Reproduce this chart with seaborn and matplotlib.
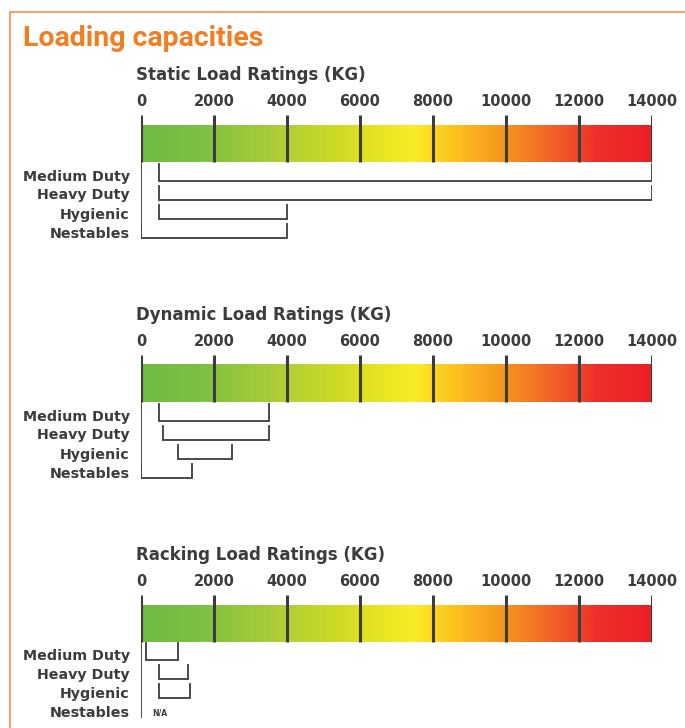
import numpy as np
import pandas as pd
import matplotlib
matplotlib.use('agg')
import matplotlib.pyplot as plt
from matplotlib.colors import LinearSegmentedColormap
import seaborn as sns

# ---- data (kg) ----
duty_types = ["Medium Duty", "Heavy Duty", "Hygienic", "Nestables"]
scale_ticks = [0, 2000, 4000, 6000, 8000, 10000, 12000, 14000]

static_start = [500, 500, 500, 0]
static_end = [14000, 14000, 4000, 4000]

dynamic_start = [500, 600, 1000, 0]
dynamic_end = [3500, 3500, 2500, 1400]

racking_start = [150, 500, 500, None]   # Nestables: N/A
racking_end = [1000, 1300, 1350, None]

panel_titles = ["Static Load Ratings (KG)", "Dynamic Load Ratings (KG)", "Racking Load Ratings (KG)"]

# colour stops of the rating bar
grad_pos = [0, 1500, 4000, 6000, 7500, 8200, 10000, 11500, 12500, 14000]
grad_col = ["#70bb43", "#7bc042", "#b3cf36", "#dbe022", "#fbec26", "#fdd01f",
            "#f7941e", "#f05b2a", "#ed302a", "#ec1f26"]

ORANGE = "#f07f22"
DARK = "#3c3c3c"
W, H = 685, 728

sns.set_style("white")
plt.rcParams['font.family'] = ['DejaVu Sans']
plt.rcParams['lines.solid_joinstyle'] = 'miter'
plt.rcParams['lines.solid_capstyle'] = 'projecting'

fig = plt.figure(figsize=(W / 100, H / 100), dpi=100)

# orange frame, open to the right and bottom
fig.add_artist(plt.Rectangle((10 / W, -0.2), 1.2, 1.2 - 12 / H, transform=fig.transFigure,
                             fill=False, edgecolor="#f2904a", linewidth=1.2, clip_on=False))
fig.text(23 / W, 1 - 38 / H, "Loading capacities", color=ORANGE, fontsize=20.5, fontweight='bold',
         family=['Roboto', 'DejaVu Sans'], va='center', ha='left')

cmap = LinearSegmentedColormap.from_list("load", list(zip(np.array(grad_pos) / 14000, grad_col)))
gradient = np.linspace(0, 1, 600)[None, :]

panels = [(static_start, static_end), (dynamic_start, dynamic_end), (racking_start, racking_end)]
row_gap = 19

for p, (starts, ends) in enumerate(panels):
    off = 240 * p
    tick_top, bar_top, bar_bot = 115 + off, 125 + off, 162 + off
    y_bottom = 245 + off
    centers = [175 + off + row_gap * i for i in range(len(duty_types))]

    ax = fig.add_axes([141 / W, 1 - y_bottom / H, 511 / W, (y_bottom - tick_top) / H])
    ax.set_xlim(0, 14000)
    ax.set_ylim(y_bottom, tick_top)

    # gradient bar + scale ticks
    ax.imshow(gradient, cmap=cmap, aspect='auto', extent=(0, 14000, bar_bot, bar_top), zorder=1)
    ax.vlines(scale_ticks, tick_top, bar_bot, color=DARK, linewidth=2.2, zorder=3)

    # brackets
    segs = []
    for i, (s, e) in enumerate(zip(starts, ends)):
        if s is None:
            continue
        bottom = centers[i] + 5.5
        top = bar_bot + 1.5 if i == 0 else bottom - 14
        for x, y in [(s, top), (s, bottom), (e, bottom), (e, top)]:
            segs.append({"x": x, "y": y, "seg": i})
    # long left rule under the bar
    segs.append({"x": 0, "y": bar_bot, "seg": 99})
    segs.append({"x": 0, "y": centers[-1] + 5.5, "seg": 99})
    df = pd.DataFrame(segs)
    sns.lineplot(data=df, x="x", y="y", units="seg", estimator=None, sort=False,
                 color="#444444", linewidth=1.35, legend=False, ax=ax)
    ax.set_xlim(0, 14000)
    ax.set_ylim(y_bottom, tick_top)

    for i, s in enumerate(starts):
        if s is None:
            ax.text(300, centers[i] + 1, "N/A", fontsize=5.5, fontweight='bold', color=DARK,
                    ha='left', va='center')

    ax.xaxis.tick_top()
    ax.set_xticks(scale_ticks)
    ax.set_xticklabels([str(t) for t in scale_ticks], fontsize=10.5, fontweight='bold', color=DARK)
    ax.set_yticks(centers)
    ax.set_yticklabels(duty_types, fontsize=10.3, fontweight='bold', color=DARK)
    ax.tick_params(axis='x', length=0, pad=4)
    ax.tick_params(axis='y', length=0, pad=8)
    ax.set_xlabel("")
    ax.set_ylabel("")
    for sp in ax.spines.values():
        sp.set_visible(False)
    for lbl in ax.get_xticklabels():
        lbl.set_clip_on(False)

    fig.text(136 / W, 1 - (75 + off) / H, panel_titles[p], fontsize=12, fontweight='bold',
             color=DARK, ha='left', va='center')

fig.savefig("out.png", dpi=100)
